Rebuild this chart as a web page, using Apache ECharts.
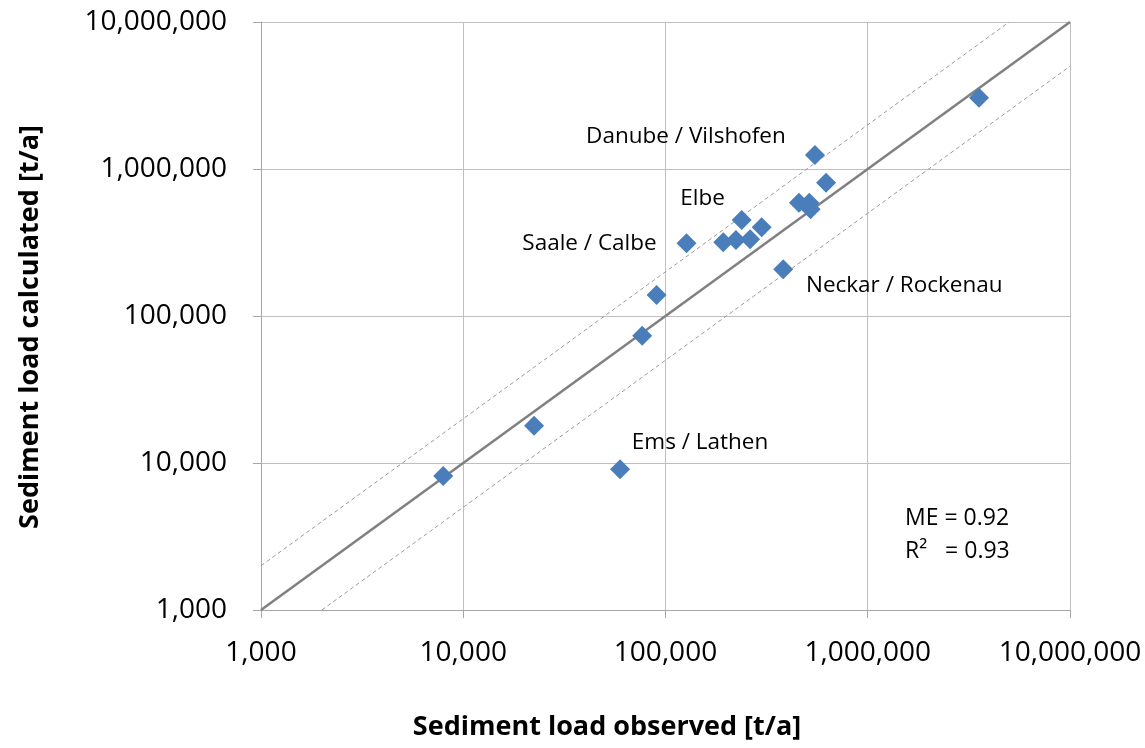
<!DOCTYPE html>
<html>
<head>
<meta charset="utf-8">
<script src="https://cdn.jsdelivr.net/npm/echarts@6/dist/echarts.min.js"></script>
<style>
html,body{margin:0;padding:0;background:#fff;}
#c{width:1145px;height:748px;}
</style>
</head>
<body>
<div id="c"></div>
<script>
// Data
const observed   = [7960, 22400, 59600, 76700, 90300, 127000, 193000, 223000, 238000, 262000, 299000, 382000, 457000, 514000, 522000, 548000, 622000, 3550000];
const calculated = [8170, 17900, 9060, 73500, 139000, 313000, 317000, 329000, 450000, 333000, 401000, 208000, 590000, 590000, 532000, 1245000, 807000, 3055000];
const stationNames = ['', '', 'Ems / Lathen', '', '', 'Saale / Calbe', '', '', 'Elbe', '', '', 'Neckar / Rockenau', '', '', '', 'Danube / Vilshofen', '', ''];
const lineRange = [1000, 10000000];
const factor = 2;
const statsText = ['ME = 0.92', 'R\u00B2   = 0.93'];
const xTitle = 'Sediment load observed [t/a]';
const yTitle = 'Sediment load calculated [t/a]';

const labelOffsets = {
  'Ems / Lathen': [80, -27],
  'Saale / Calbe': [-97, 0],
  'Elbe': [-39, -21],
  'Neckar / Rockenau': [121, 16],
  'Danube / Vilshofen': [-129, -18]
};

const FONT = '"Open Sans", "Liberation Sans", sans-serif';

const points = observed.map((o, i) => {
  const item = { value: [o, calculated[i]] };
  const n = stationNames[i];
  if (n) {
    item.label = {
      show: true, formatter: n, position: 'inside', offset: labelOffsets[n],
      color: '#000', fontSize: 22.5, fontFamily: FONT
    };
  }
  return item;
});

const fmt = v => Math.round(v).toLocaleString('en-US');

const chart = echarts.init(document.getElementById('c'), null, { renderer: 'canvas' });
chart.setOption({
  animation: false,
  backgroundColor: '#fff',
  grid: { left: 261, right: 75, top: 22, bottom: 138, containLabel: false },
  xAxis: {
    type: 'log', logBase: 10, min: lineRange[0], max: lineRange[1],
    axisLine: { show: true, lineStyle: { color: '#a6a6a6', width: 1 } },
    axisTick: { show: true, inside: false, length: 8, lineStyle: { color: '#a6a6a6' } },
    minorTick: { show: false },
    splitLine: { show: true, lineStyle: { color: '#bfbfbf', width: 1 } },
    axisLabel: { formatter: fmt, fontSize: 28, fontFamily: FONT, color: '#000', margin: 29 }
  },
  yAxis: {
    type: 'log', logBase: 10, min: lineRange[0], max: lineRange[1],
    axisLine: { show: true, lineStyle: { color: '#a6a6a6', width: 1 } },
    axisTick: { show: true, inside: false, length: 8, lineStyle: { color: '#a6a6a6' } },
    splitLine: { show: true, lineStyle: { color: '#bfbfbf', width: 1 } },
    axisLabel: { formatter: fmt, fontSize: 28, fontFamily: FONT, color: '#000', margin: 34 }
  },
  series: [
    {
      type: 'line', silent: true, symbol: 'none', z: 2,
      lineStyle: { color: '#808080', width: 2.5 },
      data: [[lineRange[0], lineRange[0]], [lineRange[1], lineRange[1]]]
    },
    {
      type: 'line', silent: true, symbol: 'none', z: 2,
      lineStyle: { color: '#9a9a9a', width: 1, type: [4, 3] },
      data: [[lineRange[0], lineRange[0] * factor], [lineRange[1] / factor, lineRange[1]]]
    },
    {
      type: 'line', silent: true, symbol: 'none', z: 2,
      lineStyle: { color: '#9a9a9a', width: 1, type: [4, 3] },
      data: [[lineRange[0] * factor, lineRange[0]], [lineRange[1], lineRange[1] / factor]]
    },
    {
      type: 'scatter', symbol: 'diamond', symbolSize: 20, z: 5,
      itemStyle: { color: '#4a7ebb', opacity: 1 },
      data: points
    }
  ],
  graphic: [
    {
      type: 'text', x: 607, y: 727,
      style: { text: xTitle, font: 'bold 27px ' + FONT, fill: '#000', align: 'center', verticalAlign: 'middle' }
    },
    {
      type: 'text', x: 30, y: 327, rotation: Math.PI / 2,
      style: { text: yTitle, font: 'bold 27px ' + FONT, fill: '#000', align: 'center', verticalAlign: 'middle' }
    },
    {
      type: 'text', left: 905, top: 507,
      style: { text: statsText[0], font: '23px ' + FONT, fill: '#000' }
    },
    {
      type: 'text', left: 905, top: 540,
      style: { text: statsText[1], font: '23px ' + FONT, fill: '#000' }
    }
  ]
});
</script>
</body>
</html>
